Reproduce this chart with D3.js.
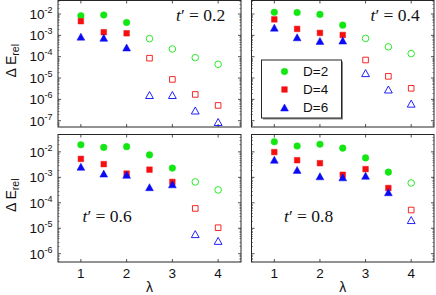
<!DOCTYPE html>
<html><head><meta charset="utf-8">
<script src="https://cdn.jsdelivr.net/npm/d3@7"></script>
<style>body{margin:0;background:#fff}svg{display:block}</style>
</head><body>
<svg id="c" width="436" height="295"></svg>
<script>
const lambdas = [1, 1.5, 2, 2.5, 3, 3.5, 4];
const xTicks = [1, 2, 3, 4];
const seriesNames = ["D=2", "D=4", "D=6"];
const tLabels = ["0.2", "0.4", "0.6", "0.8"];
const filledCounts = [3, 4, 5, 6];

const green02 = [8.3e-3, 9e-3, 4e-3, 7e-4, 2.3e-4, 9e-5, 4.4e-5];
const red02   = [4.6e-3, 1.4e-3, 1.25e-3, 8.5e-5, 8.6e-6, 1.7e-6, 5.2e-7];
const blue02  = [8.7e-4, 7.7e-4, 2.7e-4, 1.6e-6, 1.6e-6, 3e-7, 8.7e-8];

const green04 = [1.2e-2, 1.17e-2, 9.6e-3, 3e-3, 7.2e-4, 2.9e-4, 1.4e-4];
const red04   = [5.6e-3, 2e-3, 1.3e-3, 1.04e-3, 7e-5, 1.2e-5, 3.3e-6];
const blue04  = [2.3e-3, 8.1e-4, 5.5e-4, 5.7e-4, 1.7e-5, 2.9e-6, 6.3e-7];

const green06 = [1.9e-2, 1.5e-2, 1.6e-2, 7.6e-3, 2.3e-3, 6.6e-4, 3.2e-4];
const red06   = [5.3e-3, 3.3e-3, 1.4e-3, 2e-3, 6.6e-4, 6e-5, 1.05e-5];
const blue06  = [2.6e-3, 1.4e-3, 1.26e-3, 4.1e-4, 5.3e-4, 5.9e-6, 3.2e-6];

const green08 = [2.5e-2, 1.7e-2, 2e-2, 1.4e-2, 5.8e-3, 1.6e-3, 6e-4];
const red08   = [9.8e-3, 4.7e-3, 3.6e-3, 1.26e-3, 2.1e-3, 3.8e-4, 5.2e-5];
const blue08  = [4.9e-3, 1.96e-3, 1.1e-3, 1e-3, 1.15e-3, 2.6e-4, 2.1e-5];

const topYTicks = [-2, -3, -4, -5, -6, -7];
const botYTicks = [-2, -3, -4, -5, -6];

const colors = ["#14e614", "#f41010", "#0a0af5"];
const shapes = ["circle", "square", "triangle"];
const axisColor = "#262626";

const svg = d3.select("#c");

function markerPath(shape, cx, cy) {
  if (shape === "circle") {
    const r = 3.3;
    return `M${cx - r},${cy}a${r},${r} 0 1,0 ${2 * r},0a${r},${r} 0 1,0 ${-2 * r},0Z`;
  } else if (shape === "square") {
    const h = 2.8;
    return `M${cx - h},${cy - h}H${cx + h}V${cy + h}H${cx - h}Z`;
  } else {
    const w = 3.9, h = 3.5;
    return `M${cx},${cy - h}L${cx + w},${cy + h}L${cx - w},${cy + h}Z`;
  }
}

const panels = [
  {x0: 58, x1: 241, y0: 0.5, y1: 127, yd: [-7.295, -1.367], ticks: topYTicks, data: [green02, red02, blue02], tx: 176, ty: 20.5},
  {x0: 251.5, x1: 434, y0: 0.5, y1: 127, yd: [-7.295, -1.367], ticks: topYTicks, data: [green04, red04, blue04], tx: 370.5, ty: 20.5},
  {x0: 58, x1: 241, y0: 134.5, y1: 262, yd: [-6.325, -1.318], ticks: botYTicks, data: [green06, red06, blue06], tx: 82.5, ty: 221.5},
  {x0: 251.5, x1: 434, y0: 134.5, y1: 262, yd: [-6.325, -1.318], ticks: botYTicks, data: [green08, red08, blue08], tx: 284, ty: 221.5}
];

panels.forEach((p, pi) => {
  const x = d3.scaleLinear().domain([0.5, 4.5]).range([p.x0, p.x1]);
  const y = d3.scaleLog().domain([Math.pow(10, p.yd[0]), Math.pow(10, p.yd[1])]).range([p.y1, p.y0]);
  const g = svg.append("g");

  const minors = [];
  for (let e = Math.floor(p.yd[0]); e <= Math.ceil(p.yd[1]); e++) {
    for (let m = 2; m <= 9; m++) {
      const v = m * Math.pow(10, e);
      if (Math.log10(v) > p.yd[0] && Math.log10(v) < p.yd[1]) minors.push(v);
    }
  }
  minors.forEach(v => {
    const yy = Math.round(y(v)) + 0.5;
    g.append("line").attr("x1", p.x0).attr("x2", p.x0 + 1.5).attr("y1", yy).attr("y2", yy).attr("stroke", "#777").attr("stroke-width", 0.8);
    g.append("line").attr("x1", p.x1).attr("x2", p.x1 - 1.5).attr("y1", yy).attr("y2", yy).attr("stroke", "#777").attr("stroke-width", 0.8);
  });
  p.ticks.forEach(e => {
    const yy = y(Math.pow(10, e));
    g.append("line").attr("x1", p.x0).attr("x2", p.x0 + 3).attr("y1", yy).attr("y2", yy).attr("stroke", axisColor).attr("stroke-width", 0.8);
    g.append("line").attr("x1", p.x1).attr("x2", p.x1 - 3).attr("y1", yy).attr("y2", yy).attr("stroke", axisColor).attr("stroke-width", 0.8);
    if (pi === 0 || pi === 2) {
      const t = g.append("text").attr("x", 52.5).attr("y", yy + 4.8).attr("text-anchor", "end")
        .attr("font-family", "Liberation Sans, Arial, sans-serif").attr("font-size", 13.5).attr("fill", "#111");
      t.append("tspan").text("10");
      t.append("tspan").attr("dy", -6).attr("font-size", 9).text("-" + (-e));
    }
  });
  xTicks.forEach(v => {
    const xx = x(v);
    g.append("line").attr("x1", xx).attr("x2", xx).attr("y1", p.y1).attr("y2", p.y1 - 3).attr("stroke", axisColor).attr("stroke-width", 0.8);
    g.append("line").attr("x1", xx).attr("x2", xx).attr("y1", p.y0).attr("y2", p.y0 + 3).attr("stroke", axisColor).attr("stroke-width", 0.8);
    if (pi >= 2) {
      g.append("text").attr("x", xx).attr("y", 277.5).attr("text-anchor", "middle")
        .attr("font-family", "Liberation Sans, Arial, sans-serif").attr("font-size", 13.5).attr("fill", "#111").text(v);
    }
  });
  g.append("rect").attr("x", p.x0).attr("y", p.y0).attr("width", p.x1 - p.x0).attr("height", p.y1 - p.y0)
    .attr("fill", "none").attr("stroke", axisColor).attr("stroke-width", 1);

  p.data.forEach((arr, si) => {
    arr.forEach((v, i) => {
      const filled = i < filledCounts[pi];
      g.append("path").attr("d", markerPath(shapes[si], x(lambdas[i]), y(v)))
        .attr("fill", filled ? colors[si] : "none")
        .attr("stroke", colors[si]).attr("stroke-width", filled ? 0.5 : 0.9);
    });
  });

  const tt = g.append("text").attr("x", p.tx).attr("y", p.ty)
    .attr("font-family", "Liberation Serif, Times New Roman, serif").attr("font-size", 17.5).attr("fill", "#111");
  tt.append("tspan").attr("font-style", "italic").text("t");
  tt.append("tspan").text("\u2032 = " + tLabels[pi]);

  if (pi === 0 || pi === 2) {
    const cy = (p.y0 + p.y1) / 2 - 3;
    const yl = svg.append("text").attr("transform", `translate(15.5,${cy}) rotate(-90)`).attr("text-anchor", "middle")
      .attr("font-family", "Liberation Sans, Arial, sans-serif").attr("font-size", 14).attr("fill", "#111");
    yl.append("tspan").text("\u0394 E");
    yl.append("tspan").attr("dy", 3).attr("font-size", 10.5).text("rel");
  }
  if (pi >= 2) {
    svg.append("text").attr("x", (p.x0 + p.x1) / 2).attr("y", 291.5).attr("text-anchor", "middle")
      .attr("font-family", "Liberation Sans, Arial, sans-serif").attr("font-size", 14).attr("fill", "#111").text("\u03bb");
  }
});

const lg = svg.append("g");
lg.append("rect").attr("x", 263).attr("y", 61.5).attr("width", 80).attr("height", 58).attr("fill", "#888");
lg.append("rect").attr("x", 261.5).attr("y", 60).attr("width", 80).attr("height", 58)
  .attr("fill", "#fff").attr("stroke", axisColor).attr("stroke-width", 1);
const legendRows = [71.5, 89.5, 107.5];
seriesNames.forEach((name, i) => {
  lg.append("path").attr("d", markerPath(shapes[i], 284.5, legendRows[i])).attr("fill", colors[i]).attr("stroke", colors[i]).attr("stroke-width", 0.5);
  lg.append("text").attr("x", 303).attr("y", legendRows[i] + 4.7)
    .attr("font-family", "Liberation Sans, Arial, sans-serif").attr("font-size", 13.5).attr("fill", "#111").text(name);
});
</script>
</body></html>
